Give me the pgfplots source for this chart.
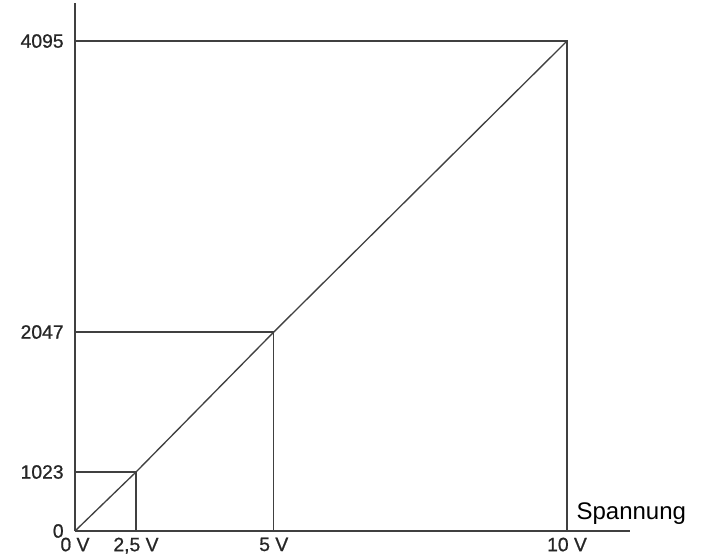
\documentclass[border=0pt]{standalone}
\usepackage{fontspec}
\setmainfont{Liberation Sans}
\newfontfamily\tickfont[FakeBold=0.8]{Liberation Sans}
\usepackage{pgfplots}
\usetikzlibrary{calc}
\pgfplotsset{compat=1.18}
\definecolor{ln}{HTML}{404040}
\begin{document}
\begin{tikzpicture}
\begin{axis}[
  name=ax,
  scale only axis,
  width=416.25pt, height=396pt,
  xmin=0, xmax=11.28, ymin=0, ymax=4413,
  axis x line=bottom, axis y line=left,
  axis line style={-, ln, line width=1pt},
  xtick={0,1.24,4.04,10},
  xticklabels={0 V,{2,5 V},5 V,10 V},
  ytick={0,493,1663,4095},
  yticklabels={0,1023,2047,4095},
  major tick length=0pt,
  tick style={draw=none},
  /pgf/number format/assume math mode=true,
  ticklabel style={font=\tickfont\fontsize{14.5}{16}\selectfont, text=black!85},
  xticklabel style={yshift=-1.5pt},
  yticklabel style={xshift=-5pt},
  clip=false,
]
\addplot[ln, line width=1pt] coordinates {(0,0) (1.24,493) (4.04,1663) (10,4095)};
\addplot[ln, line width=1pt] coordinates {(0,493) (1.24,493) (1.24,0)};
\addplot[ln, line width=1pt] coordinates {(0,1663) (4.04,1663) (4.04,0)};
\addplot[ln, line width=1pt] coordinates {(0,4095) (10,4095) (10,0)};
\node[anchor=base, font=\fontsize{18}{20}\selectfont, inner sep=0pt] at (rel axis cs:1,0) [yshift=9pt, xshift=1pt] {Spannung};
\end{axis}
\pgfresetboundingbox
\path (ax.south west) ++(-56.25pt,-20.25pt) rectangle ($(ax.north east)+(57.75pt,2.25pt)$);
\end{tikzpicture}
\end{document}
